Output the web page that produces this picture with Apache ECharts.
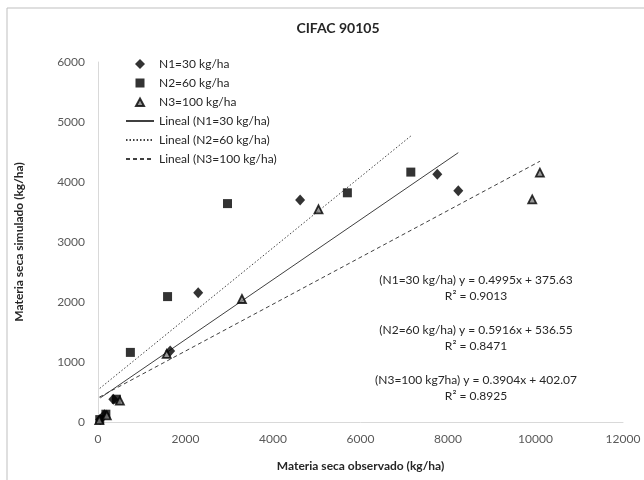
<!DOCTYPE html>
<html>
<head>
<meta charset="utf-8">
<style>
  html, body { margin: 0; padding: 0; background: #fff; }
  #chart { width: 644px; height: 480px; }
</style>
<script src="https://cdn.jsdelivr.net/npm/echarts@6/dist/echarts.min.js"></script>
</head>
<body>
<div id="chart"></div>
<script>
// Dry matter: observed (x) vs simulated (y), kg/ha, for three N rates
const seriesNames = ['N1=30 kg/ha', 'N2=60 kg/ha', 'N3=100 kg/ha'];
const trendNames = ['Lineal (N1=30 kg/ha)', 'Lineal (N2=60 kg/ha)', 'Lineal (N3=100 kg/ha)'];

const obsN1 = [50, 150, 350, 1650, 2290, 4620, 7755, 8235];
const simN1 = [40, 120, 380, 1185, 2155, 3700, 4130, 3855];

const obsN2 = [40, 180, 420, 740, 1590, 2960, 5700, 7150];
const simN2 = [40, 130, 380, 1160, 2090, 3640, 3820, 4165];

const obsN3 = [30, 200, 500, 1570, 3290, 5040, 9925, 10100];
const simN3 = [30, 110, 355, 1135, 2050, 3545, 3710, 4155];

// Linear fits (slope, intercept, R²) as printed on the chart
const slopes = [0.4995, 0.5916, 0.3904];
const intercepts = [375.63, 536.55, 402.07];
const rSquared = ['0.9013', '0.8471', '0.8925'];
const eqPrefixes = ['(N1=30 kg/ha)', '(N2=60 kg/ha)', '(N3=100 kg7ha)'];

const xTicks = [0, 2000, 4000, 6000, 8000, 10000, 12000];
const yTicks = [0, 1000, 2000, 3000, 4000, 5000, 6000];

const FONT = 'Lato, "Open Sans", sans-serif';
const obs = [obsN1, obsN2, obsN3];
const sim = [simN1, simN2, simN3];

function pairs(xs, ys) { return xs.map((x, i) => [x, ys[i]]); }
function trendLine(k) {
  const xs = obs[k];
  const lo = Math.min(...xs), hi = Math.max(...xs);
  return [lo, hi].map(x => [x, slopes[k] * x + intercepts[k]]);
}

const markerSymbols = ['diamond', 'rect', 'triangle'];
const markerSizes = [[10, 11], 9, [8, 8]];
const markerStyles = [
  { color: '#000' },
  { color: '#000' },
  { color: '#7f7f7f', borderColor: '#000', borderWidth: 1.8 }
];
// Legend glyphs: a small marker centred in a 28x10 box (leading moves fix the box)
const legendIcons = [
  'path://M0,0M28,10M14,0L19,5L14,10L9,5Z',
  'path://M0,0M28,10M9.5,0.5L18.5,0.5L18.5,9.5L9.5,9.5Z',
  'path://M0,0M28,10M14,1.5L18,9L10,9Z'
];
const lineTypes = ['solid', [1.5, 2], [4, 3]];

const series = [];
for (let k = 0; k < 3; k++) {
  series.push({
    name: seriesNames[k],
    type: 'scatter',
    data: pairs(obs[k], sim[k]),
    symbol: markerSymbols[k],
    symbolSize: markerSizes[k],
    itemStyle: markerStyles[k],
    z: 3
  });
}
for (let k = 0; k < 3; k++) {
  series.push({
    name: trendNames[k],
    type: 'line',
    data: trendLine(k),
    showSymbol: false,
    symbol: 'circle',
    symbolSize: 0,
    lineStyle: { color: '#404040', width: 1, type: lineTypes[k] },
    // point style kept invisible so the legend shows only the line
    itemStyle: { color: 'rgba(0,0,0,0)', borderWidth: 0 },
    silent: true,
    z: 2
  });
}

const eqCenterX = 476;
const eqTop = [272, 322, 372];
const eqGraphics = eqTop.map((top, k) => ({
  type: 'text',
  x: eqCenterX,
  y: top,
  silent: true,
  style: {
    text: eqPrefixes[k] + ' y = ' + slopes[k].toFixed(4) + 'x + ' + intercepts[k].toFixed(2) + '\nR² = ' + rSquared[k],
    font: '12px ' + FONT,
    fill: '#262626',
    align: 'center',
    textAlign: 'center',
    verticalAlign: 'top',
    textVerticalAlign: 'top',
    lineHeight: 16
  }
}));

const legendData = seriesNames.map((name, k) => ({ name: name, icon: legendIcons[k] }))
  .concat(trendNames.map(name => ({ name: name })));

const chart = echarts.init(document.getElementById('chart'), null, { renderer: 'canvas' });
chart.setOption({
  backgroundColor: '#fff',
  animation: false,
  title: {
    text: 'CIFAC 90105',
    left: 333,
    textAlign: 'center',
    top: 16,
    textStyle: { fontFamily: FONT, fontSize: 14, fontWeight: 'bold', color: '#262626' }
  },
  legend: {
    orient: 'vertical',
    left: 120,
    top: 53,
    itemWidth: 28,
    itemHeight: 10,
    itemGap: 7,
    data: legendData,
    textStyle: { fontFamily: FONT, fontSize: 12, color: '#262626' }
  },
  grid: { left: 98, right: 21, top: 62, bottom: 58, containLabel: false },
  xAxis: {
    type: 'value',
    min: xTicks[0],
    max: xTicks[xTicks.length - 1],
    interval: xTicks[1] - xTicks[0],
    name: 'Materia seca observado (kg/ha)',
    nameLocation: 'middle',
    nameGap: 38,
    nameTextStyle: { fontFamily: FONT, fontSize: 12, fontWeight: 'bold', color: '#262626' },
    axisLine: { show: true, lineStyle: { color: '#d9d9d9', width: 1 } },
    axisTick: { show: false },
    splitLine: { show: false },
    axisLabel: { fontFamily: FONT, fontSize: 12, color: '#595959', margin: 11, formatter: v => String(v) }
  },
  yAxis: {
    type: 'value',
    min: yTicks[0],
    max: yTicks[yTicks.length - 1],
    interval: yTicks[1] - yTicks[0],
    name: 'Materia seca simulado (kg/ha)',
    nameLocation: 'middle',
    nameGap: 73,
    nameTextStyle: { fontFamily: FONT, fontSize: 12, fontWeight: 'bold', color: '#262626' },
    axisLine: { show: true, lineStyle: { color: '#d9d9d9', width: 1 } },
    axisTick: { show: false },
    splitLine: { show: false },
    axisLabel: { fontFamily: FONT, fontSize: 12, color: '#595959', margin: 13, formatter: v => String(v) }
  },
  graphic: [
    {
      type: 'rect',
      shape: { x: 7, y: 8, width: 700, height: 600 },
      style: { fill: 'none', stroke: '#bfbfbf', lineWidth: 1 },
      silent: true
    }
  ].concat(eqGraphics),
  series: series
});
</script>
</body>
</html>
